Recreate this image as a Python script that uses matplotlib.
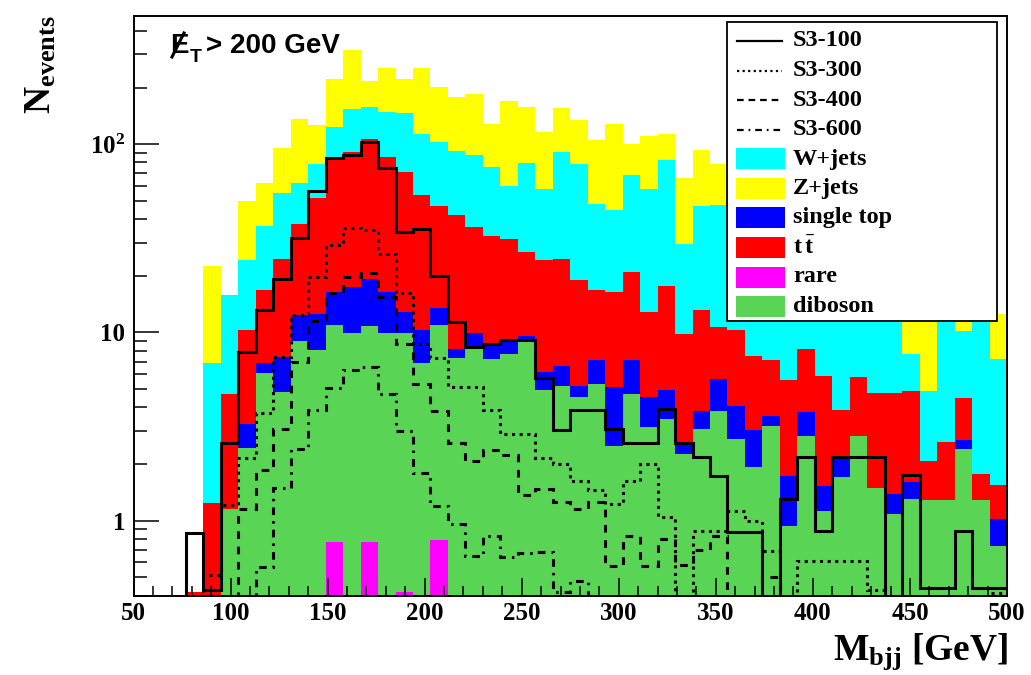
"""M_bjj distribution, MET > 200 GeV: stacked backgrounds with S3 signal overlays."""

import numpy as np
import matplotlib
matplotlib.use("Agg")
import matplotlib.pyplot as plt
from matplotlib.patches import Rectangle
from matplotlib.lines import Line2D
from matplotlib.ticker import LogLocator, MultipleLocator, NullFormatter

plt.rcParams["font.family"] = ["Liberation Serif", "DejaVu Serif"]
plt.rcParams["font.weight"] = "bold"
plt.rcParams["mathtext.fontset"] = "custom"
plt.rcParams["mathtext.rm"] = "Liberation Serif:bold"
plt.rcParams["mathtext.bf"] = "Liberation Serif:bold"
plt.rcParams["mathtext.it"] = "Liberation Serif:bold"
plt.rcParams["mathtext.sf"] = "Liberation Sans:bold"

# 50 bins of 9 GeV between 50 and 500
bin_edges = np.arange(50, 501, 9)

# stack levels: each array is the top of that layer
# (stacked bottom -> top: rare, diboson, single top, ttbar, W+jets, Z+jets)
rare_top = [0, 0, 0, 0, 0, 0, 0, 0, 0, 0,
            0, 0.77, 0, 0.77, 0, 0.42, 0, 0.79, 0, 0,
            0, 0, 0, 0, 0, 0, 0, 0, 0, 0,
            0, 0, 0, 0, 0, 0, 0, 0, 0, 0,
            0, 0, 0, 0, 0, 0, 0, 0, 0, 0]
diboson_top = [0, 0, 0, 0, 0.3, 1.15, 2.43, 6.06, 4.8, 9.05,
               8.1, 11.0, 9.9, 10.8, 9.9, 9.9, 6.85, 10.9, 7.3, 8.15,
               7.2, 7.7, 9.07, 4.97, 5.22, 4.53, 5.29, 2.5, 4.68, 3.13,
               3.47, 2.26, 3.07, 3.8, 2.72, 1.92, 3.2, 0.94, 2.83, 1.13,
               1.71, 2.83, 1.49, 1.09, 1.30, 1.28, 1.28, 2.41, 1.28, 0.73]
singletop_top = [0, 0, 0, 0, 0.3, 1.15, 3.25, 6.85, 7.4, 12.4,
                 12.6, 16.3, 17.4, 19.3, 16.4, 12.8, 10.35, 13.4, 8.2, 9.95,
                 8.5, 8.9, 9.6, 6.15, 6.67, 5.16, 7.1, 5.12, 7.14, 4.53,
                 4.95, 2.6, 3.84, 5.66, 4.04, 3.03, 3.58, 1.73, 3.77, 1.53,
                 2.13, 2.83, 1.49, 1.39, 1.60, 1.28, 1.28, 2.69, 1.28, 1.02]
ttbar_top = [0, 0, 0, 0.42, 1.24, 4.7, 10.3, 16.8, 24.7, 37.8,
             51.5, 85.2, 91.3, 107, 86, 71, 54, 46.7, 42.1, 36.3,
             32.5, 31.3, 26.8, 24.3, 24.6, 19.05, 16.85, 16.4, 20.85, 12.8,
             17.75, 9.75, 13.1, 10.7, 10.3, 7.45, 7.15, 5.6, 8.18, 5.85,
             3.88, 5.81, 4.77, 4.77, 4.88, 2.07, 2.62, 4.5, 1.76, 1.54]
wjets_top = [0, 0, 0, 0.42, 6.85, 15.9, 24.3, 36.6, 55, 62.4,
             78.5, 123, 153, 157, 149, 146, 113, 103, 92.6, 87.6,
             75.6, 60, 79.9, 58.1, 91.4, 78.3, 48.3, 44.6, 68.2, 57.6,
             82.4, 29.6, 46.9, 47.7, 40, 38, 35, 30, 33, 28,
             25, 27, 22, 20, 7.7, 4.9, 18, 10.2, 15, 7.2]
zjets_top = [0, 0, 0, 0.42, 22.6, 15.9, 50, 62.4, 95.5, 136,
             126, 221, 318, 216, 255, 221, 254, 202, 178, 185,
             128, 170, 158, 116, 155, 134, 105, 128, 100, 110,
             113, 66, 93.5, 78.7, 70, 62, 66, 55, 58, 50,
             48, 45, 40, 38, 30, 25, 30, 25, 28, 12.5]

# signal samples
s3_100 = [0, 0, 0, 0.86, 0.43, 2.58, 7.83, 13.1, 19.3, 31.6,
          56.5, 84.1, 87.2, 103, 75, 34.2, 35.4, 19.9, 11.3, 8.36,
          8.67, 9.15, 9.15, 5.69, 3.02, 3.89, 3.89, 3.05, 2.6, 2.6,
          3.92, 2.6, 2.17, 1.73, 0.87, 0.87, 0, 1.30, 2.17, 0.885,
          2.17, 2.17, 2.17, 0, 1.75, 0.44, 0.44, 0.877, 0.44, 0.44]
s3_300 = [0, 0, 0, 0, 0.515, 1.21, 2.15, 3.72, 7.38, 12.3,
          19.7, 29.1, 35.7, 34.9, 26.2, 16.1, 8.66, 7.28, 5.12, 5.12,
          3.89, 2.89, 2.89, 2.14, 2.0, 1.63, 1.45, 1.23, 1.63, 2.0,
          1.04, 0, 0.88, 0.88, 1.12, 1.0, 0.69, 0, 0.61, 0.61,
          0.61, 0.61, 0.43, 0, 0, 0, 0, 0, 0, 0.41]
s3_400 = [0, 0, 0, 0, 0, 0, 1.15, 1.85, 3.05, 7.0,
          11.5, 16.1, 19.7, 20.8, 15.5, 8.7, 5.35, 3.8, 2.6, 2.08,
          2.36, 2.23, 1.37, 1.47, 1.25, 1.15, 1.25, 0.575, 0.83, 0.575,
          0.80, 0.58, 0.7, 0.83, 0, 0, 0.5, 0, 0, 0,
          0, 0, 0, 0, 0, 0, 0, 0, 0, 0]
s3_600 = [0, 0, 0, 0, 0, 0, 0, 0.565, 1.49, 2.41,
          3.85, 5.08, 6.3, 6.55, 4.68, 3.0, 1.80, 1.19, 0.96, 0.65,
          0.83, 0.64, 0.67, 0.68, 0.42, 0.48, 0, 0, 0, 0,
          0, 0, 0, 0, 0, 0, 0, 0, 0, 0,
          0, 0, 0, 0, 0, 0, 0, 0, 0, 0]

W, H = 1031, 675
FLOOR = 1e-3


def fx(px):
    return px / W


def fy(py):
    return 1 - py / H


def main():
    fig = plt.figure(figsize=(W / 100, H / 100), dpi=100)
    ax = fig.add_axes([fx(133.5), fy(595.5), (1007 - 133.5) / W, (595.5 - 15.5) / H])
    ax.set_yscale("log")

    stack = [(zjets_top, "#ffff00"), (wjets_top, "#00ffff"), (ttbar_top, "#ff0000"),
             (singletop_top, "#0000ff"), (diboson_top, "#59d454"), (rare_top, "#ff00ff")]
    for top, color in stack:
        ax.stairs(np.maximum(top, FLOOR), bin_edges, baseline=FLOOR, fill=True,
                  color=color, lw=0, zorder=1)

    signals = [(s3_300, (0, (1, 1.5))), (s3_400, (0, (2.5, 2.5))),
               (s3_600, (0, (2.5, 2, 0.8, 2))), (s3_100, "-")]
    for vals, ls in signals:
        ax.stairs(np.maximum(vals, FLOOR), bin_edges, baseline=FLOOR,
                  color="black", lw=2.2, ls=ls, zorder=2)

    ax.set_xlim(50, 500)
    ax.set_ylim(0.4, 483)
    ax.set_axisbelow(False)

    ax.set_xticks(range(50, 501, 50))
    ax.xaxis.set_minor_locator(MultipleLocator(10))
    ax.set_yticks([1, 10, 100], labels=["1", "10", r"$\mathbf{10^{2}}$"])
    ax.yaxis.set_minor_locator(LogLocator(subs=range(2, 10)))
    ax.yaxis.set_minor_formatter(NullFormatter())
    ax.tick_params(which="both", direction="in", top=False, right=False, width=1.1,
                   labelsize=18)
    ax.tick_params(axis="y", which="major", length=18, pad=6)
    ax.tick_params(axis="y", which="minor", length=9)
    ax.tick_params(axis="x", which="major", length=13, pad=5)
    ax.tick_params(axis="x", which="minor", length=7)
    for lab in ax.get_xticklabels() + ax.get_yticklabels():
        lab.set_fontweight("bold")
    for sp in ax.spines.values():
        sp.set_linewidth(1.4)

    # axis titles
    fig.text(fx(1008), fy(660), r"$\mathbf{M_{bjj}}$ [GeV]", ha="right", va="baseline",
             fontsize=27, fontweight="bold")
    fig.text(fx(41), fy(15), r"$\mathbf{N_{events}}$", rotation=90, ha="center", va="top",
             fontsize=27)

    # MET cut label (E with a slash drawn through it)
    sans = dict(family=["Liberation Sans", "DejaVu Sans"], fontweight="bold")
    fig.text(fx(170), fy(53.3), "E", fontsize=20, va="baseline", **sans)
    fig.add_artist(Line2D([fx(172), fx(184)], [fy(57), fy(33)],
                          transform=fig.transFigure, color="black", lw=2.2))
    fig.text(fx(190), fy(62), "T", fontsize=14, va="baseline", **sans)
    fig.text(fx(206), fy(53.3), "> 200 GeV", fontsize=20, va="baseline", **sans)

    # legend box
    fig.add_artist(Rectangle((fx(727), fy(321)), (997 - 727) / W, (321 - 22) / H,
                             transform=fig.transFigure, facecolor="white",
                             edgecolor="black", lw=1.3, zorder=5))
    labels = ["S3-100", "S3-300", "S3-400", "S3-600", "W+jets", "Z+jets",
              "single top", r"$\mathbf{t\,\bar{t}}$", "rare", "diboson"]
    line_styles = ["-", (0, (1, 1.5)), (0, (3, 2.2)), (0, (3, 2.2, 0.8, 2.2))]
    fills = ["#00ffff", "#ffff00", "#0000ff", "#ff0000", "#ff00ff", "#59d454"]
    for i, lab in enumerate(labels):
        yc = 41 + 29.5 * i
        if i < 4:
            fig.add_artist(Line2D([fx(737), fx(782)], [fy(yc), fy(yc)],
                                  transform=fig.transFigure, color="black",
                                  lw=1.6, ls=line_styles[i], zorder=6))
        else:
            fig.add_artist(Rectangle((fx(736), fy(yc + 10.5)), 49 / W, 21 / H,
                                     transform=fig.transFigure, facecolor=fills[i - 4],
                                     edgecolor="none", zorder=6))
        fig.text(fx(793), fy(yc), lab, va="center", ha="left", fontsize=17.5,
                 fontweight="bold", zorder=7)

    fig.savefig("out.png", dpi=100)
    plt.close(fig)


if __name__ == "__main__":
    main()
